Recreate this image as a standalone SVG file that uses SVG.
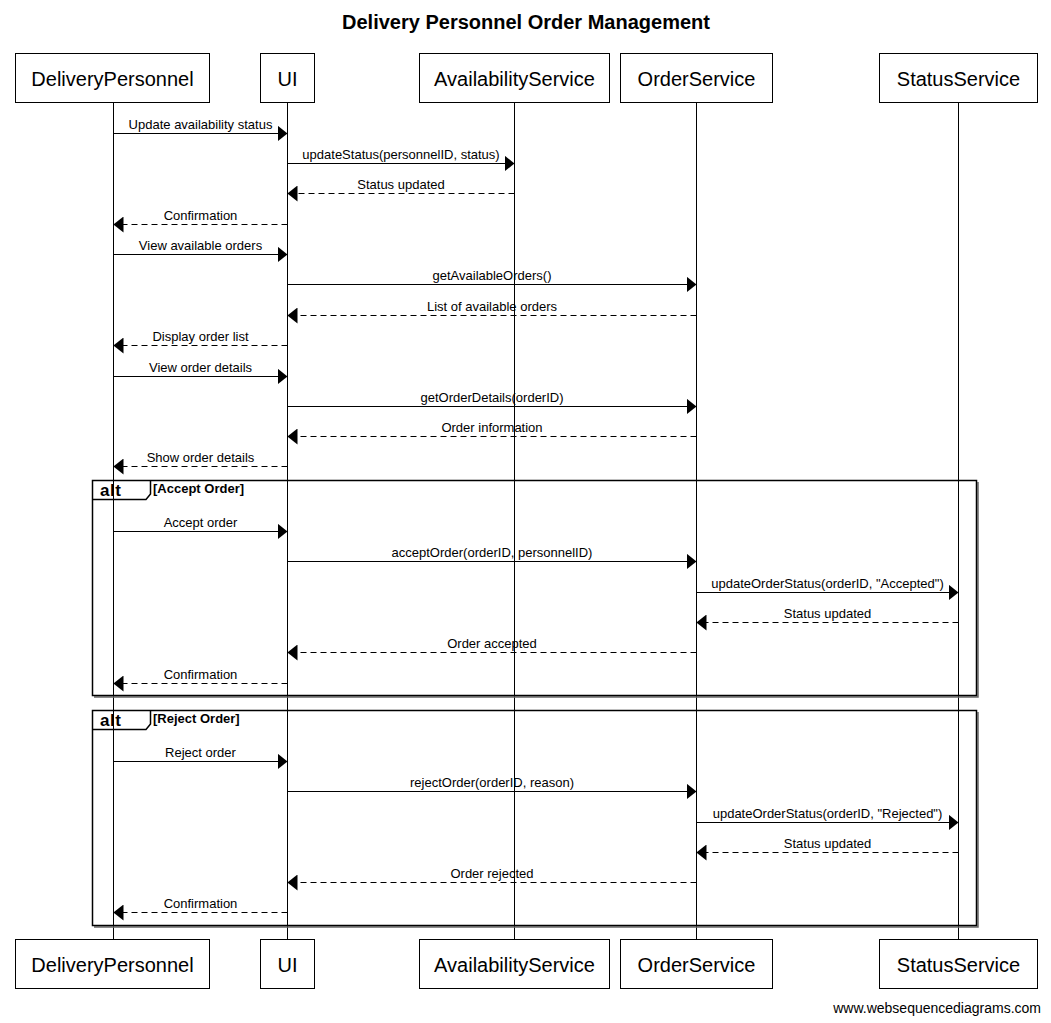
<svg xmlns="http://www.w3.org/2000/svg" width="1051" height="1023" viewBox="0 0 1051 1023">
<defs>
<style>
.box{fill:#fff;stroke:#000;stroke-width:1}
.pt{font-family:"Liberation Sans",Arial,sans-serif;font-size:20px;fill:#000;text-anchor:middle}
.life{stroke:#000;stroke-width:1}
.msg{stroke:#000;stroke-width:1;fill:none;marker-end:url(#ah)}
.dash{stroke-dasharray:6,4}
.lbl{font-family:"Liberation Sans",Arial,sans-serif;font-size:13px;fill:#000;text-anchor:middle}
.frame{fill:none;stroke:#000;stroke-width:1.5}
.shadow{fill:none;stroke:#666;stroke-width:1.5}
.alt{font-family:"Liberation Sans",Arial,sans-serif;font-size:17px;font-weight:bold;letter-spacing:0.5px;fill:#000}
.cond{font-family:"Liberation Sans",Arial,sans-serif;font-size:13px;font-weight:bold;fill:#000}
</style>
<marker id="ah" markerUnits="userSpaceOnUse" markerWidth="10" markerHeight="16" refX="10" refY="8" orient="auto" viewBox="0 0 10 16">
<path d="M0,0 L10,8 L0,16 Z" fill="#000"/>
</marker>
</defs>
<rect width="1051" height="1023" fill="#fff"/>
<text x="526" y="29" font-family="Liberation Sans, Arial, sans-serif" font-size="20" font-weight="bold" text-anchor="middle">Delivery Personnel Order Management</text>

<g id="lifelines">
<line class="life" x1="113.5" y1="102" x2="113.5" y2="939"/>
<line class="life" x1="287.5" y1="102" x2="287.5" y2="939"/>
<line class="life" x1="514.5" y1="102" x2="514.5" y2="939"/>
<line class="life" x1="696.5" y1="102" x2="696.5" y2="939"/>
<line class="life" x1="958.5" y1="102" x2="958.5" y2="939"/>
</g>

<g id="DeliveryPersonnel">
<rect class="box" x="15.5" y="53.5" width="194" height="49"/>
<text class="pt" x="112.5" y="86">DeliveryPersonnel</text>
<rect class="box" x="15.5" y="939.5" width="194" height="49"/>
<text class="pt" x="112.5" y="972">DeliveryPersonnel</text>
</g>
<g id="UI">
<rect class="box" x="260.5" y="53.5" width="54" height="49"/>
<text class="pt" x="287.5" y="86">UI</text>
<rect class="box" x="260.5" y="939.5" width="54" height="49"/>
<text class="pt" x="287.5" y="972">UI</text>
</g>
<g id="AvailabilityService">
<rect class="box" x="419.5" y="53.5" width="190" height="49"/>
<text class="pt" x="514.5" y="86">AvailabilityService</text>
<rect class="box" x="419.5" y="939.5" width="190" height="49"/>
<text class="pt" x="514.5" y="972">AvailabilityService</text>
</g>
<g id="OrderService">
<rect class="box" x="620.5" y="53.5" width="152" height="49"/>
<text class="pt" x="696.5" y="86">OrderService</text>
<rect class="box" x="620.5" y="939.5" width="152" height="49"/>
<text class="pt" x="696.5" y="972">OrderService</text>
</g>
<g id="StatusService">
<rect class="box" x="879.5" y="53.5" width="158" height="49"/>
<text class="pt" x="958.5" y="86">StatusService</text>
<rect class="box" x="879.5" y="939.5" width="158" height="49"/>
<text class="pt" x="958.5" y="972">StatusService</text>
</g>

<g id="frames">
<polyline class="shadow" points="978,482 978,697 94,697"/>
<rect class="frame" x="92.5" y="480.5" width="884" height="215"/>
<path class="frame" d="M92.5,499.5 H146 L150.5,494 V480.5"/>
<text class="alt" x="100" y="496">alt</text>
<text class="cond" x="153" y="493">[Accept Order]</text>

<polyline class="shadow" points="978,712 978,927 94,927"/>
<rect class="frame" x="92.5" y="710.5" width="884" height="215"/>
<path class="frame" d="M92.5,729.5 H146 L150.5,724 V710.5"/>
<text class="alt" x="100" y="726">alt</text>
<text class="cond" x="153" y="723">[Reject Order]</text>
</g>

<g id="connectors">
<line class="msg" x1="113.5" y1="133.5" x2="287.5" y2="133.5"/>
<text class="lbl" x="200.5" y="129">Update availability status</text>
<line class="msg" x1="287.5" y1="163.5" x2="514.5" y2="163.5"/>
<text class="lbl" x="401" y="159">updateStatus(personnelID, status)</text>
<line class="msg dash" x1="514.5" y1="193.5" x2="287.5" y2="193.5"/>
<text class="lbl" x="401" y="189">Status updated</text>
<line class="msg dash" x1="287.5" y1="224.5" x2="113.5" y2="224.5"/>
<text class="lbl" x="200.5" y="220">Confirmation</text>
<line class="msg" x1="113.5" y1="254.5" x2="287.5" y2="254.5"/>
<text class="lbl" x="200.5" y="250">View available orders</text>
<line class="msg" x1="287.5" y1="284.5" x2="696.5" y2="284.5"/>
<text class="lbl" x="492" y="280">getAvailableOrders()</text>
<line class="msg dash" x1="696.5" y1="315.5" x2="287.5" y2="315.5"/>
<text class="lbl" x="492" y="311">List of available orders</text>
<line class="msg dash" x1="287.5" y1="345.5" x2="113.5" y2="345.5"/>
<text class="lbl" x="200.5" y="341">Display order list</text>
<line class="msg" x1="113.5" y1="376.5" x2="287.5" y2="376.5"/>
<text class="lbl" x="200.5" y="372">View order details</text>
<line class="msg" x1="287.5" y1="406.5" x2="696.5" y2="406.5"/>
<text class="lbl" x="492" y="402">getOrderDetails(orderID)</text>
<line class="msg dash" x1="696.5" y1="436.5" x2="287.5" y2="436.5"/>
<text class="lbl" x="492" y="432">Order information</text>
<line class="msg dash" x1="287.5" y1="466.5" x2="113.5" y2="466.5"/>
<text class="lbl" x="200.5" y="462">Show order details</text>

<line class="msg" x1="113.5" y1="531.5" x2="287.5" y2="531.5"/>
<text class="lbl" x="200.5" y="527">Accept order</text>
<line class="msg" x1="287.5" y1="561.5" x2="696.5" y2="561.5"/>
<text class="lbl" x="492" y="557">acceptOrder(orderID, personnelID)</text>
<line class="msg" x1="696.5" y1="592.5" x2="958.5" y2="592.5"/>
<text class="lbl" x="827.5" y="588">updateOrderStatus(orderID, "Accepted")</text>
<line class="msg dash" x1="958.5" y1="622.5" x2="696.5" y2="622.5"/>
<text class="lbl" x="827.5" y="618">Status updated</text>
<line class="msg dash" x1="696.5" y1="652.5" x2="287.5" y2="652.5"/>
<text class="lbl" x="492" y="648">Order accepted</text>
<line class="msg dash" x1="287.5" y1="683.5" x2="113.5" y2="683.5"/>
<text class="lbl" x="200.5" y="679">Confirmation</text>

<line class="msg" x1="113.5" y1="761.5" x2="287.5" y2="761.5"/>
<text class="lbl" x="200.5" y="757">Reject order</text>
<line class="msg" x1="287.5" y1="791.5" x2="696.5" y2="791.5"/>
<text class="lbl" x="492" y="787">rejectOrder(orderID, reason)</text>
<line class="msg" x1="696.5" y1="822.5" x2="958.5" y2="822.5"/>
<text class="lbl" x="827.5" y="818">updateOrderStatus(orderID, "Rejected")</text>
<line class="msg dash" x1="958.5" y1="852.5" x2="696.5" y2="852.5"/>
<text class="lbl" x="827.5" y="848">Status updated</text>
<line class="msg dash" x1="696.5" y1="882.5" x2="287.5" y2="882.5"/>
<text class="lbl" x="492" y="878">Order rejected</text>
<line class="msg dash" x1="287.5" y1="912.5" x2="113.5" y2="912.5"/>
<text class="lbl" x="200.5" y="908">Confirmation</text>
</g>

<text x="1041" y="1013" font-family="Liberation Sans, Arial, sans-serif" font-size="14" text-anchor="end">www.websequencediagrams.com</text>
</svg>
